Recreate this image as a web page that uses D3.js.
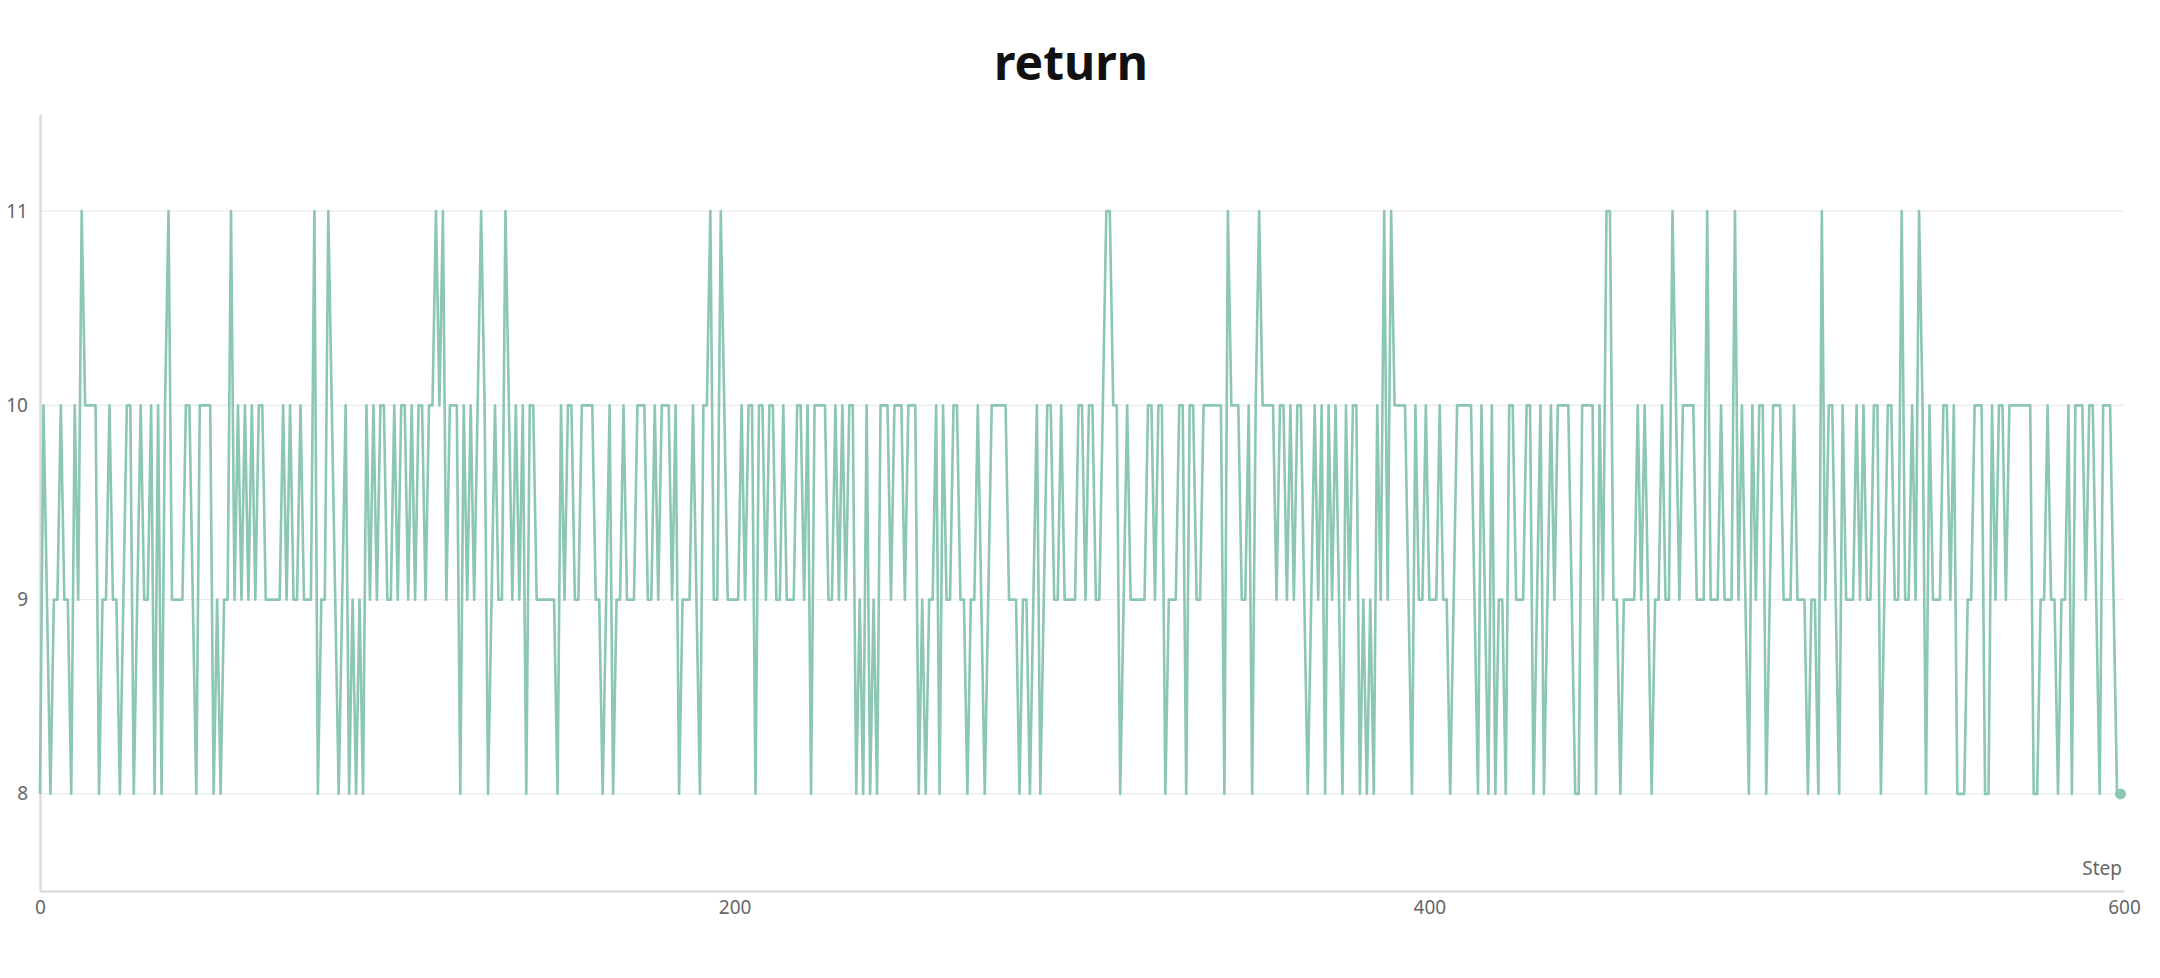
<!DOCTYPE html>
<html>
<head>
<meta charset="utf-8">
<script src="https://cdn.jsdelivr.net/npm/d3@7"></script>
<style>
  html, body { margin: 0; padding: 0; background: #ffffff; }
  svg { display: block; }
</style>
</head>
<body>
<script>
// ---- data ----
const title = "return";
const xLabel = "Step";
const steps = d3.range(0, 600);
const returns = [
  8,10,9,8,9,9,10,9,9,8, 10,9,11,10,10,10,10,8,9,9, 10,9,9,8,9,10,10,8,9,10, 9,9,10,8,10,8,10,11,9,9,
  9,9,10,10,9,8,10,10,10,10, 8,9,8,9,9,11,9,10,9,10, 9,10,9,10,10,9,9,9,9,9, 10,9,10,9,9,10,9,9,9,11,
  8,9,9,11,10,9,8,9,10,8, 9,8,9,8,10,9,10,9,10,10, 9,9,10,9,10,10,9,10,9,10, 10,9,10,10,11,10,11,9,10,10,
  10,8,10,9,10,9,10,11,10,8, 9,10,9,9,11,10,9,10,9,10, 8,10,10,9,9,9,9,9,9,8, 10,9,10,10,9,9,10,10,10,10,
  9,9,8,9,10,8,9,9,10,9, 9,9,10,10,10,9,9,10,9,10, 10,10,9,10,8,9,9,9,10,9, 8,10,10,11,9,9,11,10,9,9,
  9,9,10,9,10,10,8,10,10,9, 10,10,9,9,10,9,9,9,10,10, 9,10,8,10,10,10,10,9,9,10, 9,10,9,10,10,8,9,8,10,8,
  9,8,10,10,10,9,10,10,10,9, 10,10,10,8,9,8,9,9,10,8, 10,9,9,10,10,9,9,8,9,9, 10,9,8,9,10,10,10,10,10,9,
  9,9,8,9,9,8,9,10,8,9, 10,10,9,9,10,9,9,9,9,10, 10,9,10,10,9,9,10,11,11,10, 10,8,9,10,9,9,9,9,9,10,
  10,9,10,10,8,9,9,9,10,10, 8,10,10,9,9,10,10,10,10,10, 10,8,11,10,10,10,9,9,10,8, 10,11,10,10,10,10,9,10,10,9,
  10,9,10,10,9,8,9,10,9,10, 8,10,9,10,9,8,10,9,10,10, 8,9,8,9,8,10,9,11,9,11, 10,10,10,10,9,8,10,9,9,10,
  9,9,9,10,9,9,8,9,10,10, 10,10,10,9,8,10,9,8,10,8, 9,9,8,10,10,9,9,9,10,10, 8,9,10,8,9,10,9,10,10,10,
  10,9,8,8,10,10,10,10,8,10, 9,11,11,9,9,8,9,9,9,9, 10,9,10,9,8,9,9,10,9,9, 11,10,9,10,10,10,10,9,9,9,
  11,9,9,9,10,9,9,9,11,9, 10,9,8,10,9,10,10,8,9,10, 10,10,9,9,9,10,9,9,9,8, 9,9,8,11,9,10,10,9,8,10,
  9,9,9,10,9,10,9,9,10,10, 8,9,10,10,9,9,11,9,9,10, 9,11,10,8,10,9,9,9,10,10, 9,10,8,8,8,9,9,10,10,10,
  8,8,10,9,10,10,9,10,10,10, 10,10,10,10,8,8,9,9,10,9, 9,8,9,9,10,8,10,10,10,9, 10,10,9,8,10,10,10,9,8,8
];
const xTicks = [0, 200, 400, 600];
const yTicks = [8, 9, 10, 11];

// ---- layout ----
const W = 2160, H = 978;
const margin = { left: 40, right: 36, top: 114, bottom: 87 };
const iw = W - margin.left - margin.right;
const ih = H - margin.top - margin.bottom;

const svg = d3.select("body").append("svg")
  .attr("width", W).attr("height", H);

const x = d3.scaleLinear().domain([0, 600]).range([margin.left, margin.left + iw]);
const y = d3.scaleLinear().domain([7.5, 11.5]).range([margin.top + ih, margin.top]);

const fontFam = "'Noto Sans', 'Open Sans', sans-serif";

// title
svg.append("text")
  .attr("x", 1071).attr("y", 80)
  .attr("text-anchor", "middle")
  .attr("font-family", fontFam)
  .attr("font-weight", 700)
  .attr("font-size", 48)
  .attr("fill", "#111")
  .text(title);

// grid lines
svg.append("g")
  .selectAll("line")
  .data(yTicks)
  .join("line")
  .attr("x1", x(0)).attr("x2", x(600))
  .attr("y1", d => y(d)).attr("y2", d => y(d))
  .attr("stroke", "#ececec").attr("stroke-width", 1.3);

// y axis
const yAxis = d3.axisLeft(y).tickValues(yTicks).tickSize(0).tickPadding(12).tickFormat(d3.format("d"));
const gy = svg.append("g").attr("transform", `translate(${margin.left},0)`).call(yAxis);
gy.select(".domain").attr("stroke", "#dcdcdc").attr("stroke-width", 2.5);
gy.selectAll("text").attr("font-family", fontFam).attr("font-size", 19).attr("fill", "#666");

// x axis
const xAxis = d3.axisBottom(x).tickValues(xTicks).tickSize(0).tickPadding(10);
const gx = svg.append("g").attr("transform", `translate(0,${margin.top + ih})`).call(xAxis);
gx.select(".domain").attr("stroke", "#dcdcdc").attr("stroke-width", 2.5);
gx.selectAll("text").attr("font-family", fontFam).attr("font-size", 19).attr("fill", "#666");

// x label
svg.append("text")
  .attr("x", x(600) - 2).attr("y", margin.top + ih - 16)
  .attr("text-anchor", "end")
  .attr("font-family", fontFam)
  .attr("font-size", 19)
  .attr("fill", "#666")
  .text(xLabel);

// line
const pts = steps.map((s, i) => [s, returns[i]]);
const line = d3.line().x(d => x(d[0])).y(d => y(d[1]));
svg.append("path")
  .datum(pts)
  .attr("d", line)
  .attr("fill", "none")
  .attr("stroke", "#8cc6b5")
  .attr("stroke-width", 2.6)
  .attr("stroke-linejoin", "round");

// last point marker
const last = pts[pts.length - 1];
svg.append("circle")
  .attr("cx", x(last[0])).attr("cy", y(last[1]))
  .attr("r", 5.5)
  .attr("fill", "#8cc6b5");
</script>
</body>
</html>
